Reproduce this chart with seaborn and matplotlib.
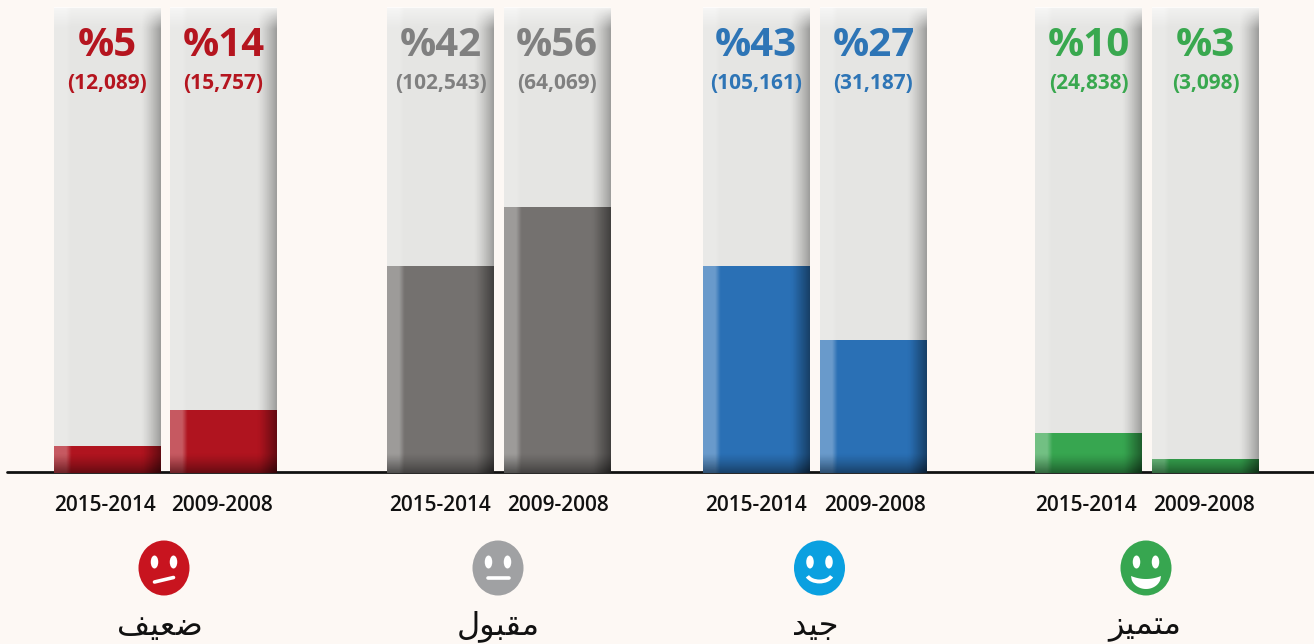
import numpy as np
import pandas as pd
import matplotlib
matplotlib.use("Agg")
import matplotlib.pyplot as plt
from matplotlib.patches import Ellipse, Polygon, Arc
import seaborn as sns

# Data, left to right
periods = ["2015-2014", "2009-2008"] * 4
percents = ["%5", "%14", "%42", "%56", "%43", "%27", "%10", "%3"]
counts = ["(12,089)", "(15,757)", "(102,543)", "(64,069)",
          "(105,161)", "(31,187)", "(24,838)", "(3,098)"]
# drawn bar levels, they do not follow the printed percent exactly
levels = [5.6, 13.1, 43.1, 55.4, 43.1, 27.7, 8.3, 2.9]
track_level = 96.9
# shaped Arabic forms in visual order, matplotlib does no shaping
ratings = ["\ufed2\ufef4\ufecc\ufebf", "\ufedd\ufeee\ufe92\ufed8\ufee3",
           "\ufeaa\ufef4\ufe9f", "\ufeb0\ufef4\ufee4\ufe98\ufee3"]
moods = ["bad", "flat", "good", "great"]

# Layout and colours, in pixels of the 1314x644 picture
BG = "#fdf8f4"
BAR_COLORS = ["#b0141f", "#74716f", "#2a70b5", "#37a650"]
TEXT_COLORS = ["#b5151f", "#808080", "#2e75b6", "#39a84f"]
FACE_COLORS = ["#c8141f", "#a0a1a3", "#0aa0e0", "#37a650"]
BAR_X = [107.5, 223.5, 440.5, 557, 756, 873.5, 1088.5, 1205.5]
YEAR_X = [105, 222, 440, 558, 756, 875, 1086.5, 1204.5]
FACE_X = [164, 498, 819.5, 1146]
LABEL_X = [160, 498, 815, 1145]
BASE_PX = 473
PX_PER_UNIT = 4.8

df = pd.DataFrame({"x": BAR_X, "level": levels, "track": track_level,
                   "color": np.repeat(BAR_COLORS, 2)})

sns.set_theme(style="white")
plt.rcParams["font.family"] = ["Open Sans", "DejaVu Sans"]

fig = plt.figure(figsize=(13.14, 6.44), dpi=100, facecolor=BG)
ax = fig.add_axes([0, 0, 1, 1], facecolor="none")
width = 107 / 116

# Grey tracks, then the coloured bars in front of them
sns.barplot(data=df, x="x", y="track", native_scale=True, width=width,
            color="#e5e5e3", saturation=1, linewidth=0, ax=ax, zorder=2)
sns.barplot(data=df, x="x", y="level", hue="x", palette=list(df["color"]), legend=False,
            native_scale=True, width=width, saturation=1, linewidth=0, ax=ax, zorder=3)
ax.axhline(0.15, color="#111111", lw=2, zorder=1, xmin=7 / 1314)
ax.set_xlim(0, 1314)
ax.set_ylim(-(644 - BASE_PX) / PX_PER_UNIT, BASE_PX / PX_PER_UNIT)
ax.set_axis_off()

# Overlay in picture pixels for bevels, text and faces
ov = fig.add_axes([0, 0, 1, 1], facecolor="none")
ov.set_axis_off()


def shade(box, alpha, color):
    left, right, top, bottom = box
    rgba = np.zeros(alpha.shape + (4,))
    rgba[..., :3] = matplotlib.colors.to_rgb(color)
    rgba[..., 3] = np.clip(alpha, 0, 1)
    ov.imshow(rgba, extent=(left, right, bottom, top), aspect="auto",
              interpolation="bilinear", zorder=2)


def bevel(patch, is_track):
    left = patch.get_x()
    w = patch.get_width()
    h = patch.get_height() * PX_PER_UNIT
    top = BASE_PX - h
    box = (left, left + w, top, BASE_PX)
    nx, ny = int(w) * 2, max(int(h) * 2, 2)
    xs = np.linspace(0, w, nx)
    ys = np.linspace(0, h, ny)
    gx, gy = np.meshgrid(xs, ys)
    from_right = w - gx
    from_bottom = h - gy
    if is_track:
        corner = np.clip(gy / 22, 0, 1)
        dark = 0.32 * np.clip(1 - from_right / 20, 0, 1) ** 1.3 * corner
        light = 0.5 * np.clip(1 - gy / 20, 0, 1) + 0.18 * np.clip((17 - gx) / 5, 0, 1)
    else:
        dark = (0.17 * np.clip(1 - from_right / 17, 0, 1)
                + 0.42 * np.clip(1 - from_bottom / 20, 0, 1) ** 1.3)
        light = 0.15 * np.clip((18 - gx) / 6, 0, 1) * np.clip(from_bottom / 18, 0, 1)
    shade(box, light, "white")
    shade(box, dark, "black")


bars = ax.patches
for patch in bars[:8]:
    bevel(patch, True)
for patch in bars[8:]:
    bevel(patch, False)

for i, x in enumerate(BAR_X):
    c = TEXT_COLORS[i // 2]
    ov.text(x, 45, percents[i], color=c, fontsize=29, fontweight="bold",
            ha="center", va="center", zorder=4)
    ov.text(x, 83, counts[i], color=c, fontsize=15, fontweight="bold",
            ha="center", va="center", zorder=4)
    ov.text(YEAR_X[i], 505, periods[i], color="#111111", fontsize=15, fontweight="semibold",
            ha="center", va="center", zorder=4)


def draw_face(x, color, mood):
    y = 568
    ov.add_patch(Ellipse((x, y), 51, 55, color=color, lw=0, zorder=3))
    for dx in (-9.5, 9.5):
        ov.add_patch(Ellipse((x + dx, y - 6), 7.5, 13, color="white", lw=0, zorder=4))
    if mood == "bad":
        ov.plot([x - 9.5, x + 9.5], [y + 14, y + 9.5], color="white", lw=2.6,
                solid_capstyle="round", zorder=4)
    elif mood == "flat":
        ov.plot([x - 10.5, x + 10.5], [y + 10, y + 10], color="white", lw=2.6,
                solid_capstyle="round", zorder=4)
    elif mood == "good":
        ov.add_patch(Arc((x, y + 5), 26, 17, theta1=15, theta2=165, color="white", lw=2.8, zorder=4))
    else:
        t = np.linspace(-1, 1, 40)
        upper = np.c_[x + 15 * t, y + 8 + 3 * (1 - t ** 2)]
        lower = np.c_[x + 15 * t, y + 8 + 13 * np.sqrt(1 - t ** 2)]
        ov.add_patch(Polygon(np.r_[upper, lower[::-1]], color="white", lw=0, zorder=4))


for i, mood in enumerate(moods):
    draw_face(FACE_X[i], FACE_COLORS[i], mood)
    ov.text(LABEL_X[i], 626, ratings[i], color="#111111", fontsize=23, family="DejaVu Sans",
            ha="center", va="center", zorder=4)

ov.set_xlim(0, 1314)
ov.set_ylim(644, 0)

fig.savefig("out.png", dpi=100, facecolor=BG)
